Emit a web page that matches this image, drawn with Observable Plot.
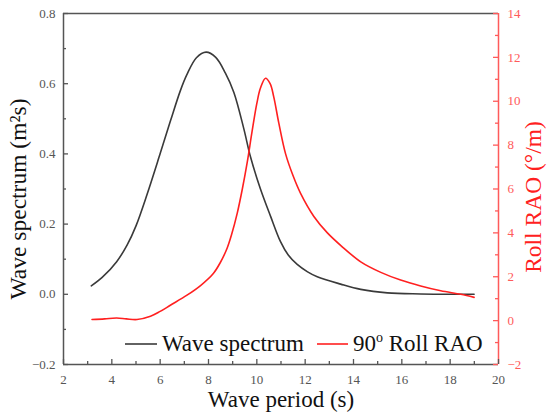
<!DOCTYPE html>
<html><head><meta charset="utf-8">
<script src="https://cdn.jsdelivr.net/npm/d3@7"></script>
<script src="https://cdn.jsdelivr.net/npm/@observablehq/plot@0.6"></script>
<style>body{margin:0;background:#fff}</style>
</head><body><div id="chart"></div>
<script>
// Wave spectrum (left axis, m²s)
const wavePeriod   = [3.15,3.6,4.2,4.63,5.0,5.46,6.01,6.43,6.84,7.1,7.5,7.9,8.3,8.7,9.05,9.46,9.74,10.15,10.57,10.98,11.3,11.67,12.1,12.5,13.47,14.3,15.4,16.78,18.0,18.99];
const waveSpectrum = [0.024,0.048,0.093,0.140,0.195,0.285,0.403,0.495,0.581,0.625,0.674,0.690,0.675,0.630,0.575,0.472,0.391,0.300,0.222,0.150,0.112,0.085,0.064,0.050,0.029,0.014,0.004,0.001,0.0,0.0];
// 90° Roll RAO (right axis, °/m)
const rollPeriod = [3.18,3.7,4.2,4.6,5.04,5.6,6.0,6.42,7.11,7.67,8.2,8.49,8.77,8.95,9.19,9.4,9.6,9.8,10.0,10.15,10.36,10.55,10.7,10.91,11.19,11.5,11.81,12.36,12.92,13.5,14.3,15.13,15.95,16.78,17.61,18.44,18.99];
const rollRAO    = [0.05,0.08,0.12,0.08,0.05,0.2,0.42,0.70,1.16,1.6,2.15,2.65,3.3,3.9,4.9,6.0,7.2,8.6,9.9,10.6,11.05,10.8,10.2,9.0,7.6,6.6,5.8,4.75,4.0,3.4,2.68,2.2,1.85,1.58,1.36,1.20,1.06];

const xTicks = [2,4,6,8,10,12,14,16,18,20];
const xMinor = [3,5,7,9,11,13,15,17,19];
const leftTicks = [-0.2,0,0.2,0.4,0.6,0.8];
const leftMinor = [-0.1,0.1,0.3,0.5,0.7];
const rightTicks = [-2,0,2,4,6,8,10,12,14];
const rightMinor = [-1,1,3,5,7,9,11,13];

const xDomain = [2,20], leftDomain = [-0.2,0.8], rightDomain = [-2,14];
const toLeft = v => leftDomain[0] + (v - rightDomain[0]) / (rightDomain[1]-rightDomain[0]) * (leftDomain[1]-leftDomain[0]);

const wave = wavePeriod.map((p,i) => ({p, v: waveSpectrum[i]}));
const roll = rollPeriod.map((p,i) => ({p, v: rollRAO[i]}));

const W = 550, H = 419, mL = 63, mR = 52, mT = 13, mB = 55;
const iW = W - mL - mR, iH = H - mT - mB;
const gray = "#555", red = "#ff2020", lightRed = "#ff5a5a";
const serif = "'Liberation Serif', 'Times New Roman', serif";
const fmtL = d => (d < 0 ? "\u2212" : "") + Math.abs(d).toFixed(1);
const fmtR = d => (d < 0 ? "\u2212" : "") + Math.abs(d);

const svg = Plot.plot({
  width: W, height: H,
  marginLeft: mL, marginRight: mR, marginTop: mT, marginBottom: mB,
  style: {fontFamily: serif, background: "white", overflow: "visible"},
  x: {domain: xDomain, axis: null},
  y: {domain: leftDomain, axis: null},
  marks: [
    // frame
    Plot.ruleY([leftDomain[1]], {stroke: gray, strokeWidth: 1.5}),
    Plot.ruleY([leftDomain[0]], {stroke: gray, strokeWidth: 1.5}),
    Plot.ruleX([xDomain[0]], {stroke: gray, strokeWidth: 1.5}),
    Plot.ruleX([xDomain[1]], {stroke: lightRed, strokeWidth: 1.5}),
    // ticks (inward)
    Plot.ruleX(xTicks, {insetTop: iH - 5, stroke: gray, strokeWidth: 1.3}),
    Plot.ruleX(xMinor, {insetTop: iH - 3, stroke: gray, strokeWidth: 1.3}),
    Plot.ruleY(leftTicks, {insetRight: iW - 5, stroke: gray, strokeWidth: 1.3}),
    Plot.ruleY(leftMinor, {insetRight: iW - 3, stroke: gray, strokeWidth: 1.3}),
    Plot.ruleY(rightTicks, {y: toLeft, insetLeft: iW - 5, stroke: lightRed, strokeWidth: 1.3}),
    Plot.ruleY(rightMinor, {y: toLeft, insetLeft: iW - 3, stroke: lightRed, strokeWidth: 1.3}),
    // tick labels
    Plot.text(xTicks, {x: d => d, frameAnchor: "bottom", lineAnchor: "middle", textAnchor: "middle", dy: 15, text: d => String(d), fontSize: 13, fill: gray, fontFamily: serif}),
    Plot.text(leftTicks, {y: d => d, frameAnchor: "left", lineAnchor: "middle", dx: -8, textAnchor: "end", text: fmtL, fontSize: 13, fill: gray, letterSpacing: 1, fontFamily: serif}),
    Plot.text(rightTicks, {y: toLeft, frameAnchor: "right", lineAnchor: "middle", dx: 9, textAnchor: "start", text: fmtR, fontSize: 13, fill: lightRed, fontFamily: serif}),
    // axis titles
    Plot.text(["Wave period (s)"], {frameAnchor: "bottom", lineAnchor: "middle", textAnchor: "middle", dy: 35, fontSize: 23, fill: "#111", fontFamily: serif}),
    Plot.text(["Wave spectrum (m\u00B2s)"], {frameAnchor: "left", lineAnchor: "middle", textAnchor: "middle", dx: -45, dy: 10, rotate: -90, fontSize: 23.5, fill: "#111", fontFamily: serif}),
    Plot.text(["Roll RAO (\u00B0/m)"], {frameAnchor: "right", lineAnchor: "middle", textAnchor: "middle", dx: 35, dy: 8, rotate: -90, fontSize: 23.5, fill: red, fontFamily: serif}),
    // data
    Plot.line(wave, {x: "p", y: "v", stroke: "#3a3a3a", strokeWidth: 1.6, curve: "catmull-rom"}),
    Plot.line(roll, {x: "p", y: d => toLeft(d.v), stroke: red, strokeWidth: 1.6, curve: "catmull-rom"})
  ]
});

// legend
const s = d3.select(svg);
const lg = s.append("g").attr("font-family", serif).attr("font-size", 23).attr("text-anchor", "start");
lg.append("line").attr("x1", 125).attr("x2", 157).attr("y1", 344).attr("y2", 344).attr("stroke", "#3a3a3a").attr("stroke-width", 1.6);
lg.append("text").attr("x", 162).attr("y", 351).attr("fill", "#111").text("Wave spectrum");
lg.append("line").attr("x1", 317).attr("x2", 348).attr("y1", 344).attr("y2", 344).attr("stroke", red).attr("stroke-width", 1.6);
const t2 = lg.append("text").attr("x", 353).attr("y", 351).attr("fill", "#111");
t2.append("tspan").text("90");
t2.append("tspan").attr("font-size", 14).attr("dy", -9).text("o");
t2.append("tspan").attr("dy", 9).text(" Roll RAO");

document.getElementById("chart").appendChild(svg);
</script>
</body></html>
